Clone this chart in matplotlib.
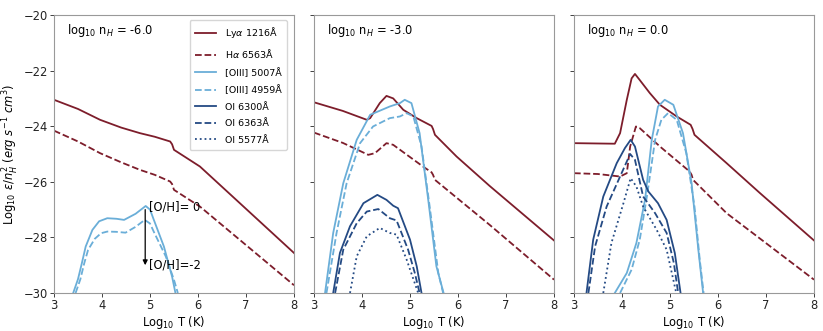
import matplotlib.pyplot as plt

# densities (log10 n_H) for the three panels
densities = ["-6.0", "-3.0", "0.0"]

# ---- panel 1: log n_H = -6 ----
T_lya_1 = [3.0, 3.5, 3.96, 4.4, 4.79, 5.1, 5.42, 5.46, 5.5, 6.04, 6.74, 8.0]
lya_1 = [-23.05, -23.38, -23.77, -24.05, -24.25, -24.38, -24.55, -24.65, -24.85, -25.45, -26.56, -28.56]
T_ha_1 = [3.0, 3.5, 3.96, 4.4, 4.79, 5.1, 5.42, 5.46, 5.5, 6.04, 6.74, 8.0]
ha_1 = [-24.16, -24.55, -24.97, -25.3, -25.57, -25.75, -25.99, -26.08, -26.29, -26.89, -27.9, -29.72]
T_o3a_1 = [3.40, 3.5, 3.58, 3.66, 3.80, 3.94, 4.11, 4.3, 4.46, 4.7, 4.91, 5.0, 5.08, 5.29, 5.46, 5.53]
o3a_1 = [-30.0, -29.5, -28.93, -28.33, -27.73, -27.42, -27.31, -27.33, -27.37, -27.15, -26.87, -27.0, -27.37, -28.33, -29.41, -30.0]
T_o3b_1 = [3.45, 3.55, 3.63, 3.71, 3.85, 3.98, 4.11, 4.3, 4.49, 4.7, 4.89, 5.0, 5.08, 5.33, 5.5, 5.58]
o3b_1 = [-30.0, -29.5, -28.93, -28.45, -28.05, -27.85, -27.79, -27.8, -27.83, -27.62, -27.37, -27.5, -27.8, -28.69, -29.53, -30.0]

# ---- panel 2: log n_H = -3 ----
T_lya_2 = [3.0, 3.6, 4.1, 4.17, 4.37, 4.51, 4.65, 4.86, 5.14, 5.45, 5.48, 5.52, 5.97, 6.66, 8.0]
lya_2 = [-23.14, -23.45, -23.77, -23.71, -23.17, -22.91, -23.0, -23.41, -23.71, -23.99, -24.1, -24.31, -25.09, -26.15, -28.11]
T_ha_2 = [3.0, 3.6, 4.13, 4.27, 4.51, 4.65, 5.27, 5.45, 5.48, 5.52, 6.66, 8.0]
ha_2 = [-24.23, -24.6, -25.03, -24.97, -24.61, -24.67, -25.45, -25.66, -25.75, -25.93, -27.55, -29.52]
T_o3a_2 = [3.23, 3.40, 3.61, 3.89, 4.17, 4.58, 4.79, 4.89, 5.03, 5.2, 5.38, 5.55, 5.7]
o3a_2 = [-30.0, -27.84, -26.05, -24.49, -23.59, -23.29, -23.17, -23.05, -23.17, -24.25, -26.65, -29.04, -30.0]
T_o3b_2 = [3.26, 3.47, 3.68, 3.96, 4.23, 4.58, 4.79, 4.93, 5.07, 5.24, 5.41, 5.59, 5.69]
o3b_2 = [-30.0, -27.84, -26.05, -24.61, -24.01, -23.71, -23.65, -23.53, -23.65, -24.73, -26.89, -29.28, -30.0]
T_o1a_2 = [3.40, 3.54, 3.75, 4.03, 4.32, 4.51, 4.65, 4.75, 5.0, 5.14, 5.24]
o1a_2 = [-30.0, -28.56, -27.60, -26.77, -26.47, -26.65, -26.86, -26.95, -28.08, -29.04, -30.0]
T_o1b_2 = [3.44, 3.61, 3.89, 4.1, 4.34, 4.58, 4.72, 4.96, 5.1, 5.2]
o1b_2 = [-30.0, -28.44, -27.49, -27.07, -26.98, -27.31, -27.39, -28.44, -29.28, -30.0]
T_o1c_2 = [3.75, 3.89, 4.1, 4.37, 4.58, 4.72, 4.93, 5.17]
o1c_2 = [-30.0, -28.68, -27.96, -27.66, -27.84, -27.90, -28.80, -30.0]

# ---- panel 3: log n_H = 0 ----
T_lya_3 = [3.0, 3.85, 3.96, 4.1, 4.2, 4.27, 4.37, 4.58, 4.79, 5.14, 5.43, 5.47, 5.51, 6.18, 6.87, 8.0]
lya_3 = [-24.61, -24.63, -24.25, -23.05, -22.28, -22.12, -22.34, -22.81, -23.23, -23.65, -23.95, -24.1, -24.31, -25.33, -26.4, -28.11]
T_ha_3 = [3.0, 3.5, 3.96, 4.1, 4.17, 4.29, 4.37, 4.79, 5.41, 5.45, 5.48, 6.18, 8.0]
ha_3 = [-25.69, -25.72, -25.81, -25.69, -24.73, -24.01, -24.07, -24.73, -25.63, -25.75, -25.93, -27.13, -29.52]
T_o3a_3 = [3.85, 4.1, 4.3, 4.48, 4.62, 4.75, 4.89, 5.07, 5.27, 5.45, 5.59, 5.69]
o3a_3 = [-30.0, -29.28, -28.20, -26.65, -24.49, -23.29, -23.05, -23.23, -24.25, -26.05, -28.44, -30.0]
T_o3b_3 = [3.96, 4.2, 4.37, 4.53, 4.69, 4.82, 4.96, 5.14, 5.34, 5.51, 5.62, 5.7]
o3b_3 = [-30.0, -29.16, -28.08, -26.41, -24.49, -23.77, -23.53, -23.77, -24.97, -26.89, -28.8, -30.0]
T_o1a_3 = [3.26, 3.40, 3.61, 3.89, 4.06, 4.18, 4.27, 4.44, 4.55, 4.75, 4.93, 5.1, 5.22]
o1a_3 = [-30.0, -28.08, -26.53, -25.33, -24.79, -24.49, -24.73, -25.93, -26.35, -26.77, -27.37, -28.56, -30.0]
T_o1b_3 = [3.30, 3.44, 3.68, 3.96, 4.17, 4.27, 4.44, 4.69, 4.93, 5.08, 5.17]
o1b_3 = [-30.0, -28.32, -26.89, -25.81, -25.0, -25.21, -26.53, -27.13, -27.84, -28.92, -30.0]
T_o1c_3 = [3.61, 3.78, 4.03, 4.18, 4.3, 4.44, 4.72, 4.93, 5.13]
o1c_3 = [-30.0, -28.20, -26.77, -25.87, -26.17, -26.89, -27.72, -28.44, -30.0]

labels = [r"Ly$\alpha$ 1216Å", r"H$\alpha$ 6563Å", "[OIII] 5007Å", "[OIII] 4959Å",
          "OI 6300Å", "OI 6363Å", "OI 5577Å"]

RED = "#7d1d2b"
LBLUE = "#6aaed8"
NAVY = "#244a84"
styles = [(RED, "-"), (RED, "--"), (LBLUE, "-"), (LBLUE, "--"),
          (NAVY, "-"), (NAVY, "--"), (NAVY, ":")]

panels = [
    [(T_lya_1, lya_1), (T_ha_1, ha_1), (T_o3a_1, o3a_1), (T_o3b_1, o3b_1), None, None, None],
    [(T_lya_2, lya_2), (T_ha_2, ha_2), (T_o3a_2, o3a_2), (T_o3b_2, o3b_2),
     (T_o1a_2, o1a_2), (T_o1b_2, o1b_2), (T_o1c_2, o1c_2)],
    [(T_lya_3, lya_3), (T_ha_3, ha_3), (T_o3a_3, o3a_3), (T_o3b_3, o3b_3),
     (T_o1a_3, o1a_3), (T_o1b_3, o1b_3), (T_o1c_3, o1c_3)],
]

FS = 8.3

fig = plt.figure(figsize=(8.23, 3.31), dpi=100)
lefts = [54, 314, 574]
axs = []
for i, left in enumerate(lefts):
    ax = fig.add_axes([left / 823, 38 / 331, 240 / 823, 278 / 331])
    axs.append(ax)
    for j, data in enumerate(panels[i]):
        color, ls = styles[j]
        if data is None:
            ax.plot([], [], color=color, ls=ls, lw=1.3, label=labels[j])
        else:
            ax.plot(data[0], data[1], color=color, ls=ls, lw=1.3, label=labels[j])
    ax.set_xlim(3, 8)
    ax.set_ylim(-30, -20)
    ax.set_xticks([3, 4, 5, 6, 7, 8])
    ax.set_yticks([-30, -28, -26, -24, -22, -20])
    ax.tick_params(labelsize=FS, length=2.8, width=0.6, pad=1.5, colors="#222222")
    ax.set_xlabel(r"Log$_{10}$ T (K)", fontsize=FS, labelpad=1.5)
    ax.text(0.055, 0.975, "log$_{10}$ n$_H$ = " + densities[i], transform=ax.transAxes,
            ha="left", va="top", fontsize=FS)
    for sp in ax.spines.values():
        sp.set_color("#999999")
    if i > 0:
        ax.set_yticklabels([])

axs[0].set_ylabel(r"Log$_{10}$ $\epsilon/n_H^2$ $(erg\ s^{-1}\ cm^3)$", fontsize=FS, labelpad=2)
axs[0].legend(loc="upper right", fontsize=6.8, labelspacing=0.8, handlelength=2.3,
              borderpad=0.55, handletextpad=0.9, bbox_to_anchor=(0.99, 1.0))

# arrow showing the metallicity shift
axs[0].annotate("", xy=(4.9, -29.1), xytext=(4.9, -26.9),
                arrowprops=dict(arrowstyle="-|>", color="black", lw=0.9, mutation_scale=7))
axs[0].text(4.97, -26.9, "[O/H]= 0", fontsize=FS, va="center")
axs[0].text(4.97, -29.0, "[O/H]=-2", fontsize=FS, va="center")

fig.savefig("out.png", dpi=100)
